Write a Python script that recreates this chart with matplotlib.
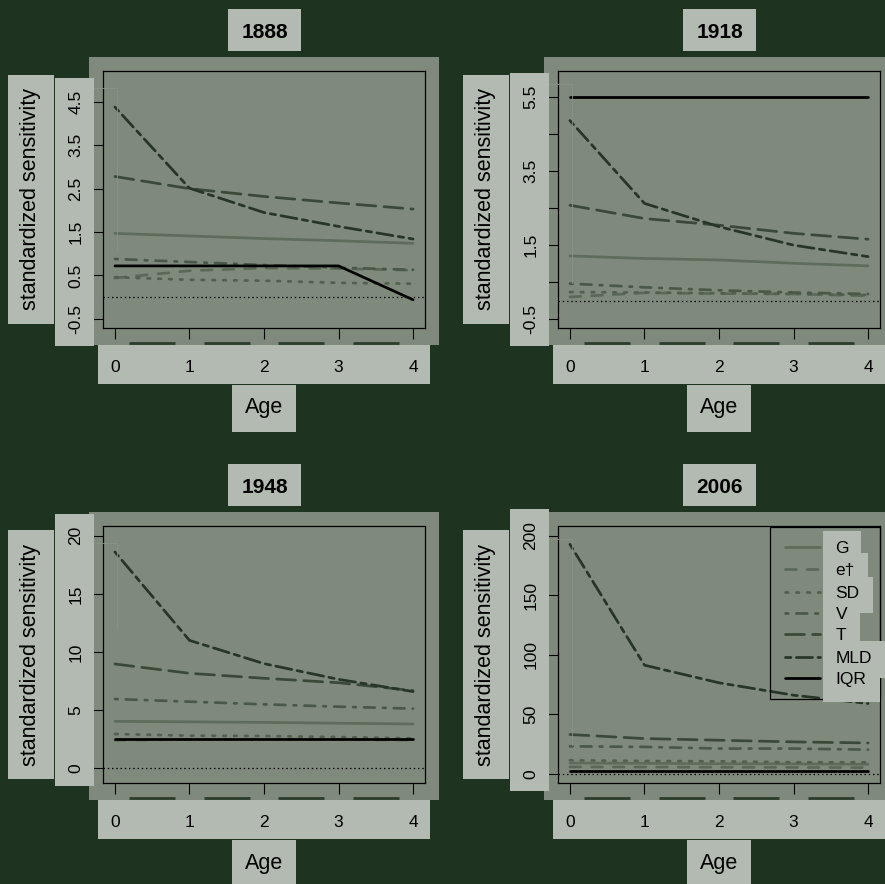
import matplotlib
matplotlib.use("Agg")
import matplotlib.pyplot as plt
from matplotlib.patches import Rectangle
from matplotlib.lines import Line2D
from matplotlib.transforms import blended_transform_factory

# ---------------- data ----------------
ages = [0, 1, 2, 3, 4]
series_names = ["G", "e\u2020", "SD", "V", "T", "MLD", "IQR"]
years = ["1888", "1918", "1948", "2006"]

G_1888 = [1.47, 1.41, 1.35, 1.30, 1.24]
e_1888 = [0.44, 0.61, 0.67, 0.66, 0.62]
SD_1888 = [0.46, 0.40, 0.38, 0.33, 0.31]
V_1888 = [0.88, 0.81, 0.74, 0.68, 0.63]
T_1888 = [2.78, 2.50, 2.32, 2.17, 2.03]
MLD_1888 = [4.38, 2.51, 1.95, 1.63, 1.34]
IQR_1888 = [0.72, 0.72, 0.72, 0.72, -0.06]

G_1918 = [1.21, 1.14, 1.10, 1.01, 0.94]
e_1918 = [0.10, 0.21, 0.19, 0.18, 0.13]
SD_1918 = [0.23, 0.22, 0.20, 0.18, 0.15]
V_1918 = [0.46, 0.36, 0.28, 0.22, 0.18]
T_1918 = [2.58, 2.22, 2.04, 1.82, 1.66]
MLD_1918 = [4.87, 2.63, 2.00, 1.50, 1.19]
IQR_1918 = [5.50, 5.50, 5.50, 5.50, 5.50]

G_1948 = [4.04, 4.00, 3.95, 3.88, 3.81]
e_1948 = [2.42, 2.48, 2.50, 2.48, 2.42]
SD_1948 = [2.95, 2.81, 2.78, 2.69, 2.58]
V_1948 = [5.96, 5.73, 5.50, 5.30, 5.13]
T_1948 = [8.97, 8.17, 7.74, 7.36, 6.68]
MLD_1948 = [18.6, 11.0, 9.0, 7.65, 6.6]
IQR_1948 = [2.55, 2.55, 2.55, 2.55, 2.55]

G_2006 = [9.2, 8.9, 8.6, 8.4, 8.1]
e_2006 = [5.9, 5.8, 5.6, 5.5, 5.3]
SD_2006 = [11.5, 10.9, 10.6, 9.8, 9.8]
V_2006 = [23.2, 22.7, 21.3, 21.3, 20.4]
T_2006 = [33.1, 29.7, 28.3, 26.9, 26.0]
MLD_2006 = [192.7, 91.3, 76.5, 66.1, 59.1]
IQR_2006 = [2.2, 2.2, 2.2, 2.2, 2.2]

data = {
    "1888": [G_1888, e_1888, SD_1888, V_1888, T_1888, MLD_1888, IQR_1888],
    "1918": [G_1918, e_1918, SD_1918, V_1918, T_1918, MLD_1918, IQR_1918],
    "1948": [G_1948, e_1948, SD_1948, V_1948, T_1948, MLD_1948, IQR_1948],
    "2006": [G_2006, e_2006, SD_2006, V_2006, T_2006, MLD_2006, IQR_2006],
}

yticks = {
    "1888": [-0.5, 0.5, 1.5, 2.5, 3.5, 4.5],
    "1918": [-0.5, 0.5, 1.5, 2.5, 3.5, 4.5, 5.5],
    "1948": [0, 5, 10, 15, 20],
    "2006": [0, 50, 100, 150, 200],
}
ytick_labels = {
    "1888": ["-0.5", "0.5", "1.5", "2.5", "3.5", "4.5"],
    "1918": ["-0.5", "", "1.5", "", "3.5", "", "5.5"],
    "1948": ["0", "5", "10", "15", "20"],
    "2006": ["0", "50", "100", "150", "200"],
}
xtick_labels = ["0", "1", "2", "3", "4"]

# ---------------- style ----------------
BG = "#1f3321"
PANEL = "#7f8a7c"
BOX = "#b3bab2"
DASHBAR = "#2b3d2b"
FAINT = "#889385"

line_colors = ["#5f6c5c", "#5b6858", "#536050", "#4a5847", "#3a4838", "#263526", "#000000"]
line_styles = ["-", (0, (4, 4)), (0, (1, 3)), (0, (1, 3, 4, 3)), (0, (7, 3)), (0, (2, 2, 6, 2)), "-"]
LW = 1.95

W, H = 885, 884
plt.rcParams["font.family"] = ["Liberation Sans", "DejaVu Sans"]

fig = plt.figure(figsize=(W / 100, H / 100), dpi=100, facecolor=BG)


def fx(x):
    return x / W


def fy(y):
    return 1 - y / H


def rect(x0, y0, x1, y1, color, z):
    fig.add_artist(Rectangle((fx(x0), fy(y1)), (x1 - x0) / W, (y1 - y0) / H,
                             transform=fig.transFigure, facecolor=color,
                             edgecolor="none", zorder=z))


ylims = {"1888": (-0.71, 5.21), "1918": (-0.74, 6.21),
         "1948": (-1.26, 20.83), "2006": (-7.6, 208.1)}
ytick_boxes = {"1888": (55, 78, 94, 346), "1918": (55, 73, 94, 346),
               "1948": (55, 59, 94, 331), "2006": (55, 54, 94, 336)}
offsets = {"1888": (0, 0), "1918": (455, 0), "1948": (0, 455), "2006": (455, 455)}
faint_len = {"1888": 162, "1918": 199, "1948": 86, "2006": 206}

for yr in years:
    dx, dy = offsets[yr]
    # panel background
    rect(89 + dx, 57 + dy, 439 + dx, 345 + dy, PANEL, -5)
    ax = fig.add_axes([fx(103 + dx), fy(328 + dy), (425 - 103) / W, (328 - 71) / H])
    ax.set_facecolor(PANEL)
    ax.set_xlim(-0.16, 4.16)
    ax.set_ylim(*ylims[yr])
    for sp in ax.spines.values():
        sp.set_linewidth(0.9)
        sp.set_color("black")
    ax.set_xticks(ages)
    ax.set_yticks(yticks[yr])
    ax.tick_params(direction="out", length=8.2, width=0.8, color="black",
                   labelbottom=False, labelleft=False)
    # reference line at zero
    ax.axhline(0, color="black", lw=0.9, linestyle=(0, (1.2, 2.2)), zorder=1)
    for vals, c, ls in zip(data[yr], line_colors, line_styles):
        ax.plot(ages, vals, color=c, lw=LW, linestyle=ls,
                dash_capstyle="round", solid_capstyle="round", zorder=2)

    # faint artefact lines near the y axis
    top_y = 88 if yr in ("1888", "1948") else 84
    fig.add_artist(Line2D([fx(116.5 + dx), fx(116.5 + dx)],
                          [fy(top_y + dy), fy(top_y + faint_len[yr] + dy)],
                          transform=fig.transFigure, color=FAINT, lw=0.6, zorder=0.5))
    fig.add_artist(Line2D([fx(94 + dx), fx(116.5 + dx)], [fy(top_y + dy), fy(top_y + dy)],
                          transform=fig.transFigure, color=FAINT, lw=0.6, zorder=0.5))

    # dashed bar along bottom of panel between ticks
    xb = blended_transform_factory(ax.transData, fig.transFigure)
    for i in range(len(ages) - 1):
        fig.add_artist(Line2D([ages[i] + 0.19, ages[i + 1] - 0.19], [fy(343.3 + dy)] * 2,
                              transform=xb, color=DASHBAR, lw=2.0,
                              solid_capstyle="butt", zorder=0.8))

    # title
    rect(228 + dx, 9 + dy, 301 + dx, 51 + dy, BOX, 1)
    fig.text(fx(264.5 + dx), fy(30 + dy), yr, ha="center", va="center_baseline",
             fontsize=15, fontweight="bold", color="black", zorder=3)
    # y label
    rect(8 + dx, 75 + dy, 54 + dx, 324 + dy, BOX, 1)
    fig.text(fx(31 + dx), fy(199.5 + dy), "standardized sensitivity", rotation=90,
             rotation_mode="anchor", ha="center", va="center", fontsize=15.5,
             color="black", zorder=3)
    # y tick labels
    bx0, by0, bx1, by1 = ytick_boxes[yr]
    rect(bx0 + dx, by0 + dy, bx1 + dx, by1 + dy, BOX, 1)
    yt = blended_transform_factory(fig.transFigure, ax.transData)
    for v, lab in zip(yticks[yr], ytick_labels[yr]):
        if lab:
            fig.text(fx(74.5 + dx), v, lab, transform=yt, rotation=90,
                     rotation_mode="anchor", ha="center", va="center_baseline",
                     fontsize=12.5, color="black", zorder=3)
    # x tick labels
    rect(98 + dx, 345 + dy, 430 + dx, 384 + dy, BOX, 1)
    for v, lab in zip(ages, xtick_labels):
        fig.text(v, fy(366 + dy), lab, transform=xb, ha="center",
                 va="center_baseline", fontsize=12.5, color="black", zorder=3)
    # x label
    rect(232 + dx, 385 + dy, 296 + dx, 432 + dy, BOX, 1)
    fig.text(fx(264 + dx), fy(408 + dy), "Age", ha="center", va="center",
             fontsize=15.5, color="black", zorder=3)

# ---------------- legend (2006 panel) ----------------
fig.add_artist(Rectangle((fx(770), fy(699)), (880 - 770) / W, (699 - 527) / H,
                         transform=fig.transFigure, facecolor="none",
                         edgecolor="black", lw=0.9, zorder=1.5))
label_boxes = [(823, 531, 861, 553), (823, 553, 868, 577), (823, 577, 873, 613),
               (823, 613, 860, 628), (823, 628, 860, 641), (823, 641, 885, 678),
               (823, 678, 880, 702)]
row_y = [547.3, 569.3, 591.7, 612.7, 634.3, 656.7, 677.7]
for (x0, y0, x1, y1) in label_boxes:
    rect(x0, y0, x1, y1, BOX, 1.6)
for name, c, ls, ry in zip(series_names, line_colors, line_styles, row_y):
    fig.add_artist(Line2D([fx(785), fx(820)], [fy(ry), fy(ry)], transform=fig.transFigure,
                          color=c, lw=LW, linestyle=ls, dash_capstyle="round",
                          solid_capstyle="round", zorder=1.7))
    fig.text(fx(835.5), fy(ry), name, ha="left", va="center_baseline", fontsize=12.5,
             color="black", zorder=3)

fig.savefig("out.png", dpi=100, facecolor=BG)
